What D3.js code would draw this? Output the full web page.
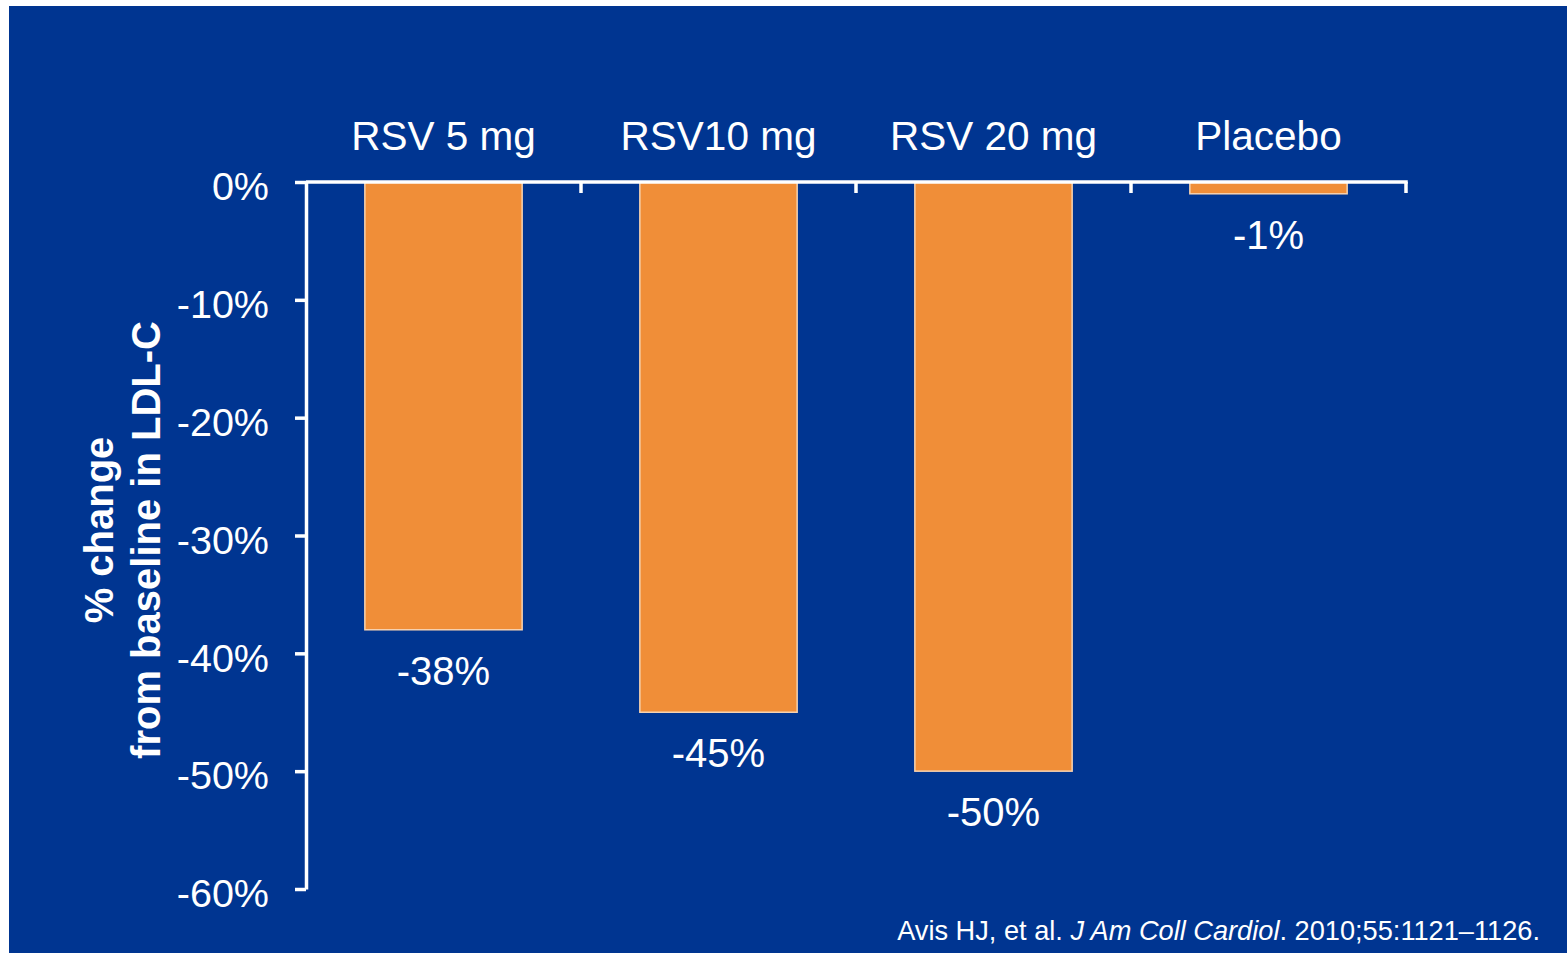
<!DOCTYPE html>
<html>
<head>
<meta charset="utf-8">
<script src="https://cdn.jsdelivr.net/npm/d3@7"></script>
<style>
  body { margin: 0; background: #fff; }
  svg { display: block; font-family: "Liberation Sans", Arial, sans-serif; }
</style>
</head>
<body>
<svg id="chart" width="1567" height="953"></svg>
<script>
var categories = ['RSV 5 mg', 'RSV10 mg', 'RSV 20 mg', 'Placebo']
var changes = [-38, -45, -50, -1]
var valueLabels = ['-38%', '-45%', '-50%', '-1%']
var yTicks = [0, -10, -20, -30, -40, -50, -60]
var yTitle = ['% change', 'from baseline in LDL-C']

var BLUE = '#003591'
var ORANGE = '#f08e38'

var svg = d3.select('#chart')

svg.append('rect')
  .attr('x', 9).attr('y', 6)
  .attr('width', 1567 - 9).attr('height', 953 - 6)
  .attr('fill', BLUE)

var x = d3.scaleBand().domain(categories).range([306, 1406]).padding(0)
var y = d3.scaleLinear().domain([0, -60]).range([182, 889])
var barW = x.bandwidth() * 0.572

// bars
svg.selectAll('rect.bar')
  .data(categories)
  .join('rect')
  .attr('class', 'bar')
  .attr('x', function (d) { return x(d) + (x.bandwidth() - barW) / 2 })
  .attr('y', y(0))
  .attr('width', barW)
  .attr('height', function (d, i) { return y(changes[i]) - y(0) })
  .attr('fill', ORANGE)
  .attr('stroke', '#f7d2b0')
  .attr('stroke-width', 1.5)

// y axis
var yAxis = d3.axisLeft(y)
  .tickValues(yTicks)
  .tickSize(11)
  .tickSizeOuter(0)
  .tickPadding(26)
  .tickFormat(function (d) { return d + '%' })

var gy = svg.append('g')
  .attr('transform', 'translate(306,0)')
  .call(yAxis)
gy.select('.domain').attr('stroke', '#fff').attr('stroke-width', 3.5)
gy.selectAll('.tick line').attr('stroke', '#fff').attr('stroke-width', 3.5)
gy.selectAll('.tick text')
  .attr('fill', '#fff')
  .attr('font-size', 39.5)
  .attr('dy', '0.45em')
  .style('font-family', '"Liberation Sans", Arial, sans-serif')

// zero line with category boundary ticks
var bounds = categories.map(function (c) { return x(c) }).concat([x.range()[1]])
svg.append('line')
  .attr('x1', 306).attr('x2', x.range()[1] + 1.75)
  .attr('y1', y(0)).attr('y2', y(0))
  .attr('stroke', '#fff').attr('stroke-width', 3.5)
svg.selectAll('line.xtick')
  .data(bounds.slice(1))
  .join('line')
  .attr('class', 'xtick')
  .attr('x1', function (d) { return d }).attr('x2', function (d) { return d })
  .attr('y1', y(0)).attr('y2', y(0) + 11)
  .attr('stroke', '#fff').attr('stroke-width', 3.5)

// category labels
svg.selectAll('text.cat')
  .data(categories)
  .join('text')
  .attr('class', 'cat')
  .attr('x', function (d) { return x(d) + x.bandwidth() / 2 })
  .attr('y', 150)
  .attr('text-anchor', 'middle')
  .attr('fill', '#fff')
  .attr('font-size', 40.5)
  .text(function (d) { return d })

// value labels
svg.selectAll('text.val')
  .data(categories)
  .join('text')
  .attr('class', 'val')
  .attr('x', function (d) { return x(d) + x.bandwidth() / 2 })
  .attr('y', function (d, i) { return y(changes[i]) + 55 })
  .attr('text-anchor', 'middle')
  .attr('fill', '#fff')
  .attr('font-size', 40)
  .text(function (d, i) { return valueLabels[i] })

// y title
svg.selectAll('text.ytitle')
  .data(yTitle)
  .join('text')
  .attr('class', 'ytitle')
  .attr('transform', function (d, i) {
    return 'translate(' + (113 + i * 47) + ',' + (530 + i * 10) + ') rotate(-90)'
  })
  .attr('text-anchor', 'middle')
  .attr('fill', '#fff')
  .attr('font-size', 40)
  .attr('font-weight', 'bold')
  .text(function (d) { return d })

// citation
var cite = svg.append('text')
  .attr('x', 1540).attr('y', 940)
  .attr('text-anchor', 'end')
  .attr('fill', '#fff')
  .attr('font-size', 27.2)
cite.append('tspan').text('Avis HJ, et al. ')
cite.append('tspan').attr('font-style', 'italic').text('J Am Coll Cardiol')
cite.append('tspan').text('. 2010;55:1121\u20131126.')
</script>
</body>
</html>
